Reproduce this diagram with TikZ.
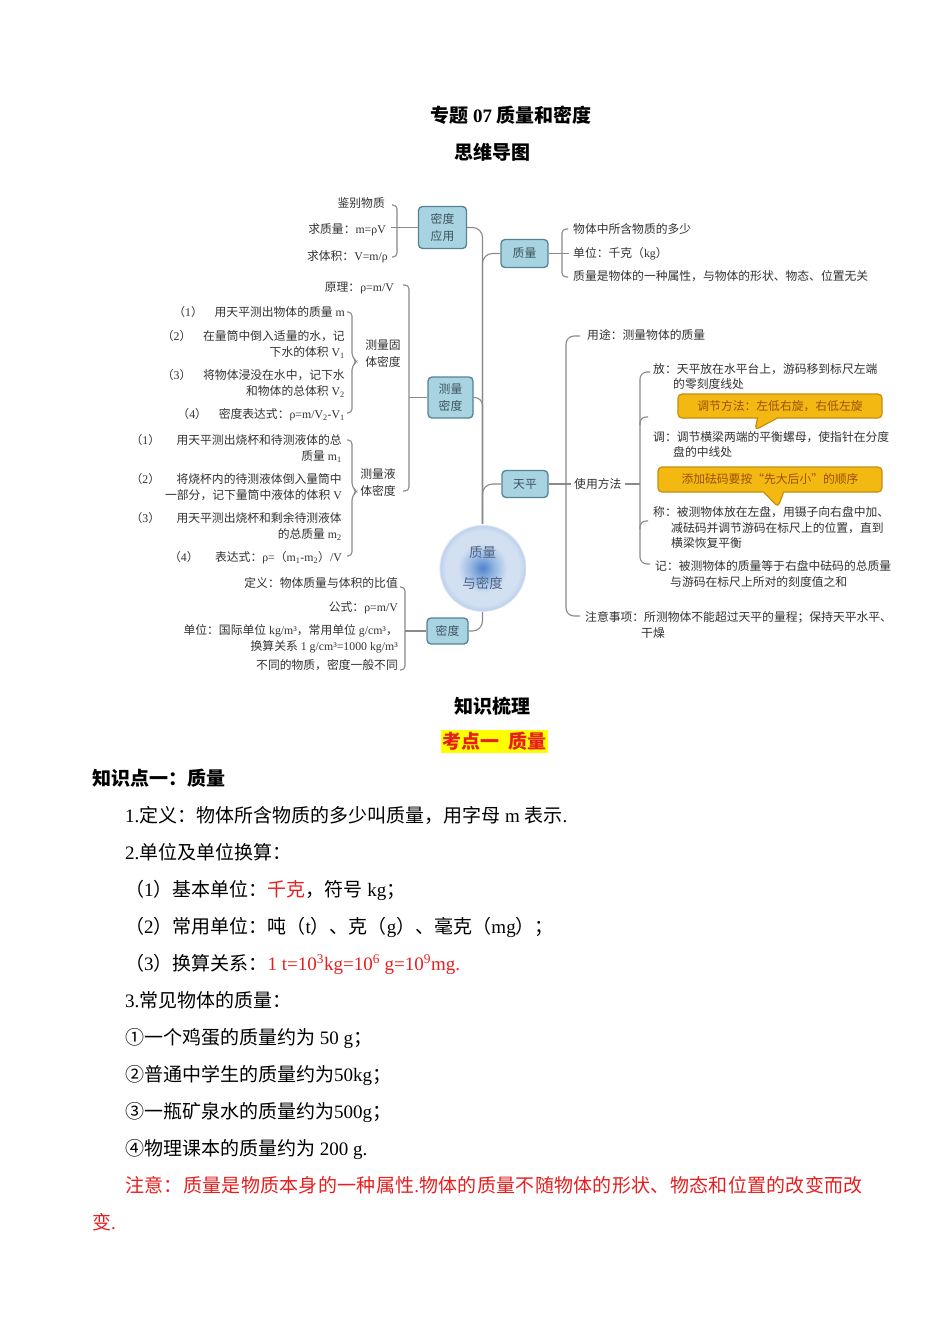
\documentclass[tikz,border=0pt]{standalone}
\usepackage{fontspec}
\setmainfont{Liberation Serif}
\newfontfamily\cjk{Noto Sans CJK SC}
\newfontfamily\cjkwide{Noto Sans CJK SC}[LetterSpace=1.6]
\usetikzlibrary{positioning, shapes.callouts}

% CJK runs switch to the CJK font by themselves
\XeTeXinterchartokenstate=1
\chardef\cjkclass=7
\newcount\cjkcnt
\def\setcjkrange#1#2{\cjkcnt=#1
  \loop\XeTeXcharclass\cjkcnt=\cjkclass
  \ifnum\cjkcnt<#2 \advance\cjkcnt by 1 \repeat}
\setcjkrange{"4E00}{"9FFF}
\setcjkrange{"3000}{"303F}
\setcjkrange{"FF00}{"FFEF}
\setcjkrange{"2460}{"24FF}
\setcjkrange{"201C}{"201D}
\XeTeXinterchartoks 0 \cjkclass = {\begingroup\cjk}
\XeTeXinterchartoks 4095 \cjkclass = {\begingroup\cjk}
\XeTeXinterchartoks \cjkclass 0 = {\endgroup}
\XeTeXinterchartoks \cjkclass 4095 = {\endgroup}

\newcommand\bodyfont{\fontsize{19}{23}\selectfont}
\newcommand\mapfont{\fontsize{11.8}{15}\selectfont}
\newcommand\boxfont{\fontsize{11.8}{17}\selectfont}
\newcommand\ballfont{\fontsize{13.5}{31}\selectfont}

\definecolor{boxfill}{RGB}{168,212,226}
\definecolor{boxline}{RGB}{84,132,148}
\definecolor{boxtext}{RGB}{62,82,92}
\definecolor{linegray}{RGB}{138,138,138}
\definecolor{maptext}{RGB}{50,50,50}
\definecolor{tipfill}{RGB}{244,184,18}
\definecolor{tipline}{RGB}{196,142,16}
\definecolor{tiptext}{RGB}{150,82,10}
\definecolor{glowcore}{RGB}{82,130,205}
\definecolor{glowmid}{RGB}{150,184,226}
\definecolor{glowlight}{RGB}{210,224,242}
\definecolor{glowrim}{RGB}{192,210,236}
\definecolor{balltext}{RGB}{80,100,130}
\definecolor{notered}{RGB}{232,30,30}
\definecolor{marker}{RGB}{255,255,0}

\pgfdeclareradialshading{ballglow}{\pgfpoint{0bp}{0bp}}{color(0bp)=(glowcore); color(7bp)=(glowmid); color(14bp)=(glowlight); color(21bp)=(glowlight); color(24bp)=(glowrim); color(25bp)=(white); color(50bp)=(white)}

\begin{document}
\begin{tikzpicture}[x=1pt, y=-1pt,
    body/.style={font=\bodyfont, inner sep=0pt, text height=16.7pt, text depth=2.3pt, anchor=west},
    head/.style={body, font=\bodyfont\bfseries, anchor=center},
    lbl/.style={font=\mapfont, text=maptext, inner sep=0pt, text height=10.4pt, text depth=1.4pt},
    lr/.style={lbl, anchor=east},
    ll/.style={lbl, anchor=west},
    topic/.style={draw=boxline, fill=boxfill, line width=1.3pt, rounded corners=4pt, font=\boxfont, text=boxtext, align=center, inner sep=1pt},
    tip/.style={rectangle callout, draw=tipline, fill=tipfill, line width=1.2pt, rounded corners=4pt, font=\mapfont, text=tiptext, inner sep=0pt, callout pointer width=20pt},
    conn/.style={draw=linegray, line width=1.1pt},
    brace/.style={conn, rounded corners=4pt}
  ]
  \useasboundingbox (0,0) rectangle (950,1344);
  \fill[white] (0,0) rectangle (950,1344);

  \node[head] (title) at (511,115) {专题 07 质量和密度};
  \node[head] (maptitle) at (492,152) {思维导图};

  % mind map
  \node[circle, minimum size=88pt, inner sep=0pt, shading=ballglow, font=\ballfont, text=balltext, align=center] (ctr) at (482.5,568) {质量\\与密度};
  \node[topic, minimum width=48pt, minimum height=42pt] (yy) at (442.5,227.5) {密度\\应用};
  \node[topic, minimum width=47pt, minimum height=28pt] (zl) at (524.5,253.5) {质量};
  \node[topic, minimum width=45pt, minimum height=41pt] (clmd) at (450.5,397.5) {测量\\密度};
  \node[topic, minimum width=46pt, minimum height=27pt] (tp) at (525,484) {天平};
  \node[topic, minimum width=41pt, minimum height=26pt] (md) at (447.5,631) {密度};

  \draw[conn, rounded corners=10pt] (ctr.north) |- (yy.east);
  \draw[conn, rounded corners=10pt] (ctr.north) |- (zl.west);
  \draw[conn, rounded corners=8pt] (ctr.north) |- (clmd.east);
  \draw[conn, rounded corners=10pt] (ctr.north) |- (tp.west);
  \draw[conn, rounded corners=10pt] (ctr.south) |- (md.east);

  % 密度应用
  \node[lr] (a1) at (385,203) {鉴别物质};
  \node[lr] (a2) at (386,229) {求质量：m=ρV};
  \node[lr] (a3) at (388,256) {求体积：V=m/ρ};
  \draw[brace] (392,205) -- (397,205) -- (397,257) -- (392,257);
  \coordinate (yyb) at (391,227.5);
  \draw[conn] (yyb) -- (yy);

  % 质量
  \node[ll] (e1) at (573,229) {物体中所含物质的多少};
  \node[ll] (e2) at (573,253) {单位：千克（kg）};
  \node[ll] (e3) at (573,276) {质量是物体的一种属性，与物体的形状、物态、位置无关};
  \draw[brace] (568,229) -- (562,229) -- (562,277) -- (568,277);
  \coordinate (zlb) at (569,253.5);
  \draw[conn] (zl) -- (zlb);

  % 测量密度
  \node[lr] (b0) at (394,287) {原理：ρ=m/V};
  \node[lbl, align=center, font=\boxfont] (gt) at (383,362) {测量固\\体密度};
  \node[lbl, align=center, font=\boxfont] (yt) at (378,491) {测量液\\体密度};
  \draw[brace] (403,285) -- (409,285) -- (409,491) -- (403,491);
  \coordinate (clmdb) at (409,397.5);
  \draw[conn] (clmdb) -- (clmd);

  \node[lr] (b1) at (345,312) {（1）\hspace{1em}用天平测出物体的质量 m};
  \node[lr] (b2) at (345,336) {（2）\hspace{1em}在量筒中倒入适量的水，记};
  \node[lr] (b2b) at (345,352) {下水的体积 V\textsubscript{1}};
  \node[lr] (b3) at (345,375) {（3）\hspace{1em}将物体浸没在水中，记下水};
  \node[lr] (b3b) at (345,391) {和物体的总体积 V\textsubscript{2}};
  \node[lr] (b4) at (345,414) {（4）\hspace{1em}密度表达式：ρ=m/V\textsubscript{2}-V\textsubscript{1}};
  \draw[brace] (347,312) -- (352,312) -- (352,357) -- (357,361.5) -- (352,366) -- (352,413) -- (347,413);

  \node[lr] (c1) at (342,440) {（1）\hspace{1.4em}用天平测出烧杯和待测液体的总};
  \node[lr] (c1b) at (342,456) {质量 m\textsubscript{1}};
  \node[lr] (c2) at (342,479) {（2）\hspace{1.4em}将烧杯内的待测液体倒入量筒中};
  \node[lr] (c2b) at (342,495) {一部分，记下量筒中液体的体积 V};
  \node[lr] (c3) at (342,518) {（3）\hspace{1.4em}用天平测出烧杯和剩余待测液体};
  \node[lr] (c3b) at (342,534) {的总质量 m\textsubscript{2}};
  \node[lr] (c4) at (342,557) {（4）\hspace{1.4em}表达式：ρ=（m\textsubscript{1}-m\textsubscript{2}）/V};
  \draw[brace] (347,440) -- (352,440) -- (352,487) -- (357,491.5) -- (352,496) -- (352,556) -- (347,556);

  % 密度
  \node[lr] (d1) at (398,583) {定义：物体质量与体积的比值};
  \node[lr] (d2) at (398,607) {公式：ρ=m/V};
  \node[lr] (d3) at (398,630) {单位：国际单位 kg/m³，常用单位 g/cm³，};
  \node[lr] (d4) at (398,646) {换算关系 1 g/cm³=1000 kg/m³};
  \node[lr] (d5) at (398,665) {不同的物质，密度一般不同};
  \draw[brace] (400,587) -- (405,587) -- (405,670) -- (400,670);
  \coordinate (mdb) at (405,631);
  \draw[conn] (mdb) -- (md);

  % 天平
  \node[ll] (f0) at (587,335) {用途：测量物体的质量};
  \node[ll, inner xsep=3pt] (fm) at (571,484) {使用方法};
  \node[ll] (g1) at (585,617) {注意事项：所测物体不能超过天平的量程；保持天平水平、};
  \node[ll] (g1b) at (641,633) {干燥};
  \draw[brace, rounded corners=8pt] (580,336) -- (566,336) -- (566,616) -- (580,616);
  \draw[conn] (tp) -- (fm);
  \coordinate (fmb) at (640,484);
  \draw[conn] (fm) -- (fmb);

  \node[ll] (f1) at (653,369) {放：天平放在水平台上，游码移到标尺左端};
  \node[ll] (f1b) at (673,384) {的零刻度线处};
  \node[ll] (f2) at (653,437) {调：调节横梁两端的平衡螺母，使指针在分度};
  \node[ll] (f2b) at (673,452) {盘的中线处};
  \node[ll] (f3) at (653,512) {称：被测物体放在左盘，用镊子向右盘中加、};
  \node[ll] (f3b) at (671,528) {减砝码并调节游码在标尺上的位置，直到};
  \node[ll] (f3c) at (671,543) {横梁恢复平衡};
  \node[ll] (f4) at (655,566) {记：被测物体的质量等于右盘中砝码的总质量};
  \node[ll] (f4b) at (670,582) {与游码在标尺上所对的刻度值之和};
  \draw[brace, rounded corners=7pt] (650,372) -- (640,372) -- (640,564) -- (650,564);
  \draw[brace, rounded corners=6pt] (640,425) -- (640,417) -- (648,417);
  \draw[brace, rounded corners=6pt] (640,529) -- (640,521) -- (648,521);

  \coordinate (h1tip) at (755,430);
  \coordinate (h2tip) at (778,507);
  \node[tip, minimum width=204pt, minimum height=24pt, callout absolute pointer={(h1tip)}] (h1) at (780,406) {调节方法：左低右旋，右低左旋};
  \node[tip, minimum width=224pt, minimum height=25pt, callout absolute pointer={(h2tip)}] (h2) at (770,479.5) {添加砝码要按“先大后小”的顺序};

  % knowledge text
  \node[head] (sec) at (492,706) {知识梳理};
  \node[head, text=notered, fill=marker, inner xsep=1.5pt, inner ysep=2pt] (kd) at (494.5,741.5) {考点一\ \ 质量};
  \node[body, font=\bodyfont\bfseries] (zsd) at (92,778) {知识点一：质量};

  \node[body] (l1) at (125,815) {1.定义：物体所含物质的多少叫质量，用字母 m 表示.};
  \node[body] (l2) at (125,852) {2.单位及单位换算：};
  \node[body] (l3) at (125,889) {（1）基本单位：\textcolor{notered}{千克}，符号 kg；};
  \node[body] (l4) at (125,926) {（2）常用单位：吨（t）、克（g）、毫克（mg）；};
  \node[body] (l5) at (125,963) {（3）换算关系：\textcolor{notered}{1 t=10\textsuperscript{3}kg=10\textsuperscript{6} g=10\textsuperscript{9}mg.}};
  \node[body] (l6) at (125,1000) {3.常见物体的质量：};
  \node[body] (l7) at (125,1037) {①一个鸡蛋的质量约为 50 g；};
  \node[body] (l8) at (125,1074) {②普通中学生的质量约为50kg；};
  \node[body] (l9) at (125,1111) {③一瓶矿泉水的质量约为500g；};
  \node[body] (l10) at (125,1148) {④物理课本的质量约为 200 g.};
  \node[body, text=notered] (l11) at (125,1185) {\let\cjk\cjkwide 注意：质量是物质本身的一种属性.物体的质量不随物体的形状、物态和位置的改变而改};
  \node[body, text=notered] (l12) at (92,1222) {变.};
\end{tikzpicture}
\end{document}
